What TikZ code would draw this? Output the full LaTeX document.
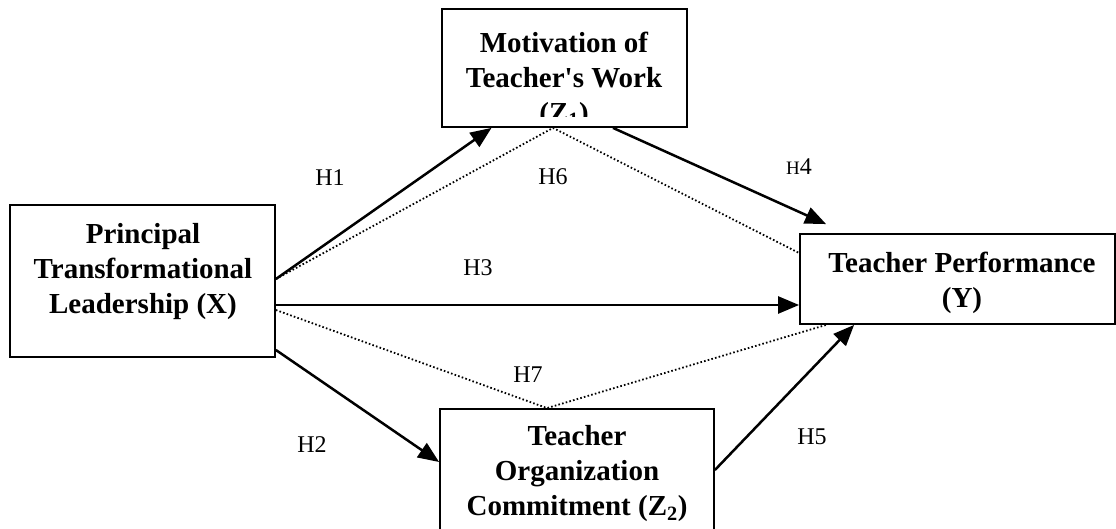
\documentclass[tikz,border=0pt]{standalone}
\usepackage{fontspec}
\setmainfont{Liberation Serif}
\usetikzlibrary{arrows.meta}
\begin{document}
\begin{tikzpicture}[x=1pt,y=-1pt,
  boxshape/.style={draw, line width=1.8pt, rectangle, inner sep=0pt},
  boxtext/.style={align=center, font=\fontsize{29}{35}\selectfont\bfseries, inner sep=0pt},
  hlabel/.style={font=\fontsize{24}{28}\selectfont, inner sep=0pt},
  arr/.style={line width=2.5pt, -{Triangle[length=21pt,width=17pt]}},
  dots/.style={line width=1.8pt, dash pattern=on 1.6pt off 2.2pt}]
\clip (0,0) rectangle (1116,529);
\fill[white] (0,0) rectangle (1116,529);
% boxes
\node[boxshape, minimum width=265pt, minimum height=152pt] (X) at (142.5,281) {};
\node[boxshape, minimum width=245pt, minimum height=118pt] (Z1) at (564.5,68) {};
\node[boxshape, minimum width=315pt, minimum height=90pt] (Y) at (957.5,279) {};
\node[boxshape, minimum width=274pt, minimum height=151pt] (Z2) at (577,484.5) {};
% box texts
\node[boxtext] (Xt) at (143,272) {Principal\\Transformational\\Leadership (X)};
\begin{scope}
\clip (442,9) rectangle (687,117);
\node[boxtext] (Z1t) at (564,80) {Motivation of\\Teacher\textquotesingle s Work\\(Z\textsubscript{1})};
\end{scope}
\node[boxtext] (Yt) at (962,283) {Teacher Performance\\(Y)};
\node[boxtext] (Z2t) at (577,474) {Teacher\\Organization\\Commitment (Z\textsubscript{2})};
% connectors
\draw[dots] ([yshift=2pt]X.east) -- ([xshift=-11.5pt]Z1.south) -- ([yshift=26pt]Y.west);
\draw[dots] ([yshift=-29pt]X.east) -- ([xshift=-30pt]Z2.north) -- ([xshift=27pt]Y.south west);
\draw[arr] ([yshift=2pt]X.east) -- ([xshift=-73pt]Z1.south);
\draw[arr] ([xshift=48.5pt]Z1.south) -- ([xshift=27pt,yshift=9pt]Y.north west);
\draw[arr] ([yshift=-24pt]X.east) -- ([yshift=-24pt]X.east -| Y.west);
\draw[arr] ([yshift=-69pt]X.east) -- ([yshift=22.5pt]Z2.west);
\draw[arr] ([yshift=14.5pt]Z2.east) -- ([xshift=55pt]Y.south west);
% labels
\node[hlabel] (h1) at (330,178) {H1};
\node[hlabel] (h2) at (312,445) {H2};
\node[hlabel] (h3) at (478,268) {H3};
\node[hlabel] (h4) at (799,167) {{\fontsize{19}{22}\selectfont H}4};
\node[hlabel] (h5) at (812,437) {H5};
\node[hlabel] (h6) at (553,177) {H6};
\node[hlabel] (h7) at (528,375) {H7};
\end{tikzpicture}
\end{document}
